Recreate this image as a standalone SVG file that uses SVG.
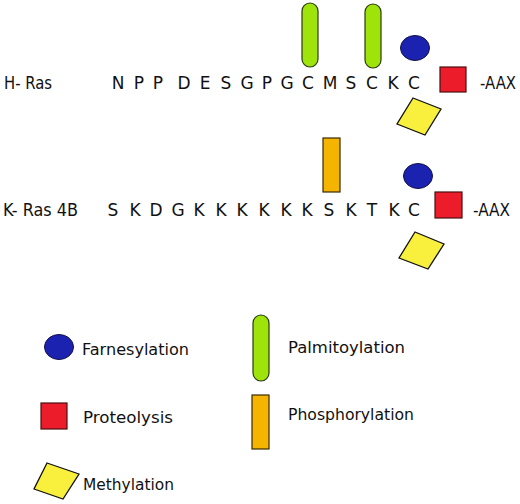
<svg xmlns="http://www.w3.org/2000/svg" width="520" height="504" viewBox="0 0 520 504">
<style>
text{font-family:"DejaVu Sans","Verdana",sans-serif;fill:#111}
.seq{font-size:17px;text-anchor:middle}
.lbl{font-size:17px}
.leg{font-size:16px}
.pal{fill:#9ee40a;stroke:#2a3a10;stroke-width:1.2}
.far{fill:#1c22b0;stroke:#10104a;stroke-width:1}
.pro{fill:#ec1c2a;stroke:#4a1010;stroke-width:1.2}
.met{fill:#f8f03c;stroke:#111;stroke-width:1.3}
.pho{fill:#f5b400;stroke:#3a2a00;stroke-width:1.2}
</style>
<rect width="520" height="504" fill="#fff"/>
<g id="hras">
<text class="lbl" x="4" y="89" textLength="48" lengthAdjust="spacingAndGlyphs">H- Ras</text>
<text class="seq" x="118" y="89">N</text>
<text class="seq" x="139" y="89">P</text>
<text class="seq" x="158" y="89">P</text>
<text class="seq" x="184" y="89">D</text>
<text class="seq" x="205" y="89">E</text>
<text class="seq" x="226" y="89">S</text>
<text class="seq" x="247" y="89">G</text>
<text class="seq" x="267" y="89">P</text>
<text class="seq" x="287" y="89">G</text>
<text class="seq" x="308" y="89">C</text>
<text class="seq" x="330" y="89">M</text>
<text class="seq" x="351" y="89">S</text>
<text class="seq" x="372" y="89">C</text>
<text class="seq" x="393" y="89">K</text>
<text class="seq" x="414" y="89">C</text>
<rect class="pal" x="302" y="3" width="16" height="64" rx="8" ry="8"/>
<rect class="pal" x="365" y="4" width="16" height="64" rx="8" ry="8"/>
<ellipse class="far" cx="415" cy="48" rx="14.5" ry="12.5"/>
<rect class="pro" x="440" y="67" width="26" height="25"/>
<text class="lbl" x="480" y="89" textLength="36" lengthAdjust="spacingAndGlyphs">-AAX</text>
<polygon class="met" points="413,98 441,109 425,135 397,124"/>
</g>
<g id="kras">
<text class="lbl" x="3" y="216" textLength="75" lengthAdjust="spacingAndGlyphs">K- Ras 4B</text>
<text class="seq" x="113" y="216">S</text>
<text class="seq" x="135" y="216">K</text>
<text class="seq" x="156" y="216">D</text>
<text class="seq" x="178" y="216">G</text>
<text class="seq" x="199" y="216">K</text>
<text class="seq" x="221" y="216">K</text>
<text class="seq" x="242" y="216">K</text>
<text class="seq" x="264" y="216">K</text>
<text class="seq" x="286" y="216">K</text>
<text class="seq" x="307" y="216">K</text>
<text class="seq" x="329" y="216">S</text>
<text class="seq" x="351" y="216">K</text>
<text class="seq" x="372" y="216">T</text>
<text class="seq" x="394" y="216">K</text>
<text class="seq" x="414" y="216">C</text>
<rect class="pho" x="323" y="138" width="17" height="54"/>
<ellipse class="far" cx="418" cy="176" rx="14.5" ry="12.5"/>
<rect class="pro" x="435" y="192" width="27" height="26"/>
<text class="lbl" x="473" y="216" textLength="37" lengthAdjust="spacingAndGlyphs">-AAX</text>
<polygon class="met" points="415,232 444,244 428,269 399,258"/>
</g>
<g id="legend-farnesylation">
<ellipse class="far" cx="59" cy="347" rx="14.5" ry="12.5"/>
<text class="leg" x="82" y="355" textLength="107" lengthAdjust="spacingAndGlyphs">Farnesylation</text>
</g>
<g id="legend-proteolysis">
<rect class="pro" x="41" y="403" width="26" height="26"/>
<text class="leg" x="83" y="423" textLength="90" lengthAdjust="spacingAndGlyphs">Proteolysis</text>
</g>
<g id="legend-methylation">
<polygon class="met" points="47,463 79,474 63,499 34,489"/>
<text class="leg" x="83" y="490" textLength="91" lengthAdjust="spacingAndGlyphs">Methylation</text>
</g>
<g id="legend-palmitoylation">
<rect class="pal" x="253" y="315" width="16" height="66" rx="8" ry="8"/>
<text class="leg" x="288" y="353" textLength="117" lengthAdjust="spacingAndGlyphs">Palmitoylation</text>
</g>
<g id="legend-phosphorylation">
<rect class="pho" x="252" y="395" width="17" height="54"/>
<text class="leg" x="288" y="420" textLength="126" lengthAdjust="spacingAndGlyphs">Phosphorylation</text>
</g>
<g id="connectors"/>
</svg>
